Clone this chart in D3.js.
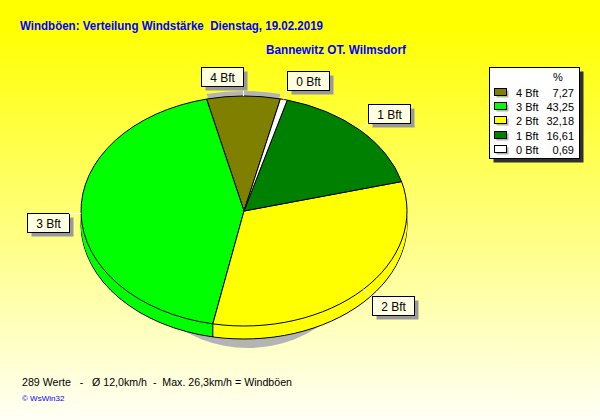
<!DOCTYPE html>
<html><head><meta charset="utf-8">
<script src="https://cdn.jsdelivr.net/npm/d3@7"></script>
<style>
html,body{margin:0;padding:0;background:#fff;}
svg{display:block;font-family:"Liberation Sans",Arial,sans-serif;}
</style></head>
<body><div id="chart"></div>
<script>
// ---- data ----
const titleText = "Windböen: Verteilung Windstärke  Dienstag, 19.02.2019";
const subtitleText = "Bannewitz OT. Wilmsdorf";
const footerText = "289 Werte   -   Ø 12,0km/h  -  Max. 26,3km/h = Windböen";
const creditText = "© WsWin32";
const categories = ["4 Bft", "3 Bft", "2 Bft", "1 Bft", "0 Bft"];
const values = [7.27, 43.25, 32.18, 16.61, 0.69];
const valueLabels = ["7,27", "43,25", "32,18", "16,61", "0,69"];
const legendHeader = "%";

// ---- styles ----
const colors = ["#808000", "#00ff00", "#ffff00", "#008000", "#ffffff"];
const W = 600, H = 420;
const cx = 244, cy = 211, rx = 163, ry = 115, depth = 13;
const startDeg = 12.9;

const svg = d3.select("#chart").append("svg").attr("width", W).attr("height", H);
const defs = svg.append("defs");
const bg = defs.append("linearGradient").attr("id", "bg")
  .attr("x1", "0").attr("y1", "0").attr("x2", "0").attr("y2", "1");
bg.append("stop").attr("offset", "0").attr("stop-color", "#ffff00");
bg.append("stop").attr("offset", "0.06").attr("stop-color", "#ffff00");
bg.append("stop").attr("offset", "1").attr("stop-color", "#fffff6");
svg.append("rect").attr("width", W).attr("height", H).attr("fill", "url(#bg)");

// titles
svg.append("text").attr("x", 20).attr("y", 30).attr("fill", "#0000ff")
  .attr("font-weight", "bold").attr("font-size", 13).style("white-space", "pre")
  .attr("textLength", 303).attr("lengthAdjust", "spacingAndGlyphs").text(titleText);
svg.append("text").attr("x", 266).attr("y", 54).attr("fill", "#0000ff")
  .attr("font-weight", "bold").attr("font-size", 13)
  .attr("textLength", 140).attr("lengthAdjust", "spacingAndGlyphs").text(subtitleText);

// pie
const start = startDeg * Math.PI / 180;
const pie = d3.pie().sort(null).value(d => d).startAngle(start).endAngle(start - 2 * Math.PI);
const arcs = pie(values);
const arc = d3.arc().innerRadius(0).outerRadius(rx);
const sy = ry / rx;
const pt = (a, r1, r2) => [cx + r1 * Math.sin(a), cy - r2 * Math.cos(a)];

// shadow under pie
svg.append("ellipse").attr("cx", cx + 4).attr("cy", cy + 22).attr("rx", 122).attr("ry", 115)
  .attr("fill", "#b4b4b4");

const g = svg.append("g");
// gray band above first slice
g.append("path").attr("d", arc(arcs[0]))
  .attr("transform", `translate(${cx},${cy - 5}) scale(1,${sy})`).attr("fill", "#b4b4b4");

// bottom layer with outline
g.selectAll("path.bot").data(arcs).join("path").attr("class", "bot")
  .attr("d", arc).attr("transform", `translate(${cx},${cy + depth}) scale(1,${sy})`)
  .attr("fill", (d, i) => colors[i]).attr("stroke", "#000").attr("stroke-width", 1)
  .attr("vector-effect", "non-scaling-stroke");
// side fill
for (let k = depth - 1; k >= 1; k--) {
  g.append("g").selectAll("path").data(arcs).join("path")
    .attr("d", arc).attr("transform", `translate(${cx},${cy + k}) scale(1,${sy})`)
    .attr("fill", (d, i) => colors[i]);
}
// vertical edges on the front
arcs.forEach(a => {
  const ang = a.startAngle;
  if (Math.cos(ang) < 0) {
    const p = pt(ang, rx, ry);
    g.append("line").attr("x1", p[0]).attr("y1", p[1]).attr("x2", p[0]).attr("y2", p[1] + depth)
      .attr("stroke", "#000");
  }
});
// top face
g.selectAll("path.top").data(arcs).join("path").attr("class", "top")
  .attr("d", arc).attr("transform", `translate(${cx},${cy}) scale(1,${sy})`)
  .attr("fill", (d, i) => colors[i]).attr("stroke", "#000").attr("stroke-width", 1)
  .attr("vector-effect", "non-scaling-stroke");

// labels
const lab = svg.append("g").attr("font-size", 12);
arcs.forEach((a, i) => {
  const m = (a.startAngle + a.endAngle) / 2;
  const e = pt(m, rx, ry);
  const c = pt(m, rx + 12, ry + 10);
  lab.append("line").attr("x1", e[0]).attr("y1", e[1]).attr("x2", c[0]).attr("y2", c[1])
    .attr("stroke", "#fff").attr("stroke-width", 1);
  const t = lab.append("text").attr("font-size", 12).text(categories[i]);
  const tw = t.node().getComputedTextLength();
  const bw = Math.round(tw + 17), bh = 19;
  const s = Math.sin(m), co = Math.cos(m);
  const bx = Math.round(s >= 0 ? c[0] : c[0] - bw);
  const by = Math.round(co >= 0 ? c[1] - bh : c[1]);
  lab.insert("rect", "text").attr("x", bx + 4.5).attr("y", by + 4.5).attr("width", bw).attr("height", bh)
    .attr("fill", "#999");
  lab.insert("rect", "text").attr("x", bx + 0.5).attr("y", by + 0.5).attr("width", bw).attr("height", bh)
    .attr("fill", "#ffffe1").attr("stroke", "#000");
  t.attr("x", bx + 0.5 + bw / 2).attr("y", by + 14.5).attr("text-anchor", "middle");
});

// legend
const lg = svg.append("g").attr("font-size", 11);
lg.append("rect").attr("x", 493.5).attr("y", 71.5).attr("width", 90).attr("height", 91).attr("fill", "#303030");
lg.append("rect").attr("x", 489.5).attr("y", 67.5).attr("width", 90).attr("height", 91)
  .attr("fill", "#fff").attr("stroke", "#000");
lg.append("text").attr("x", 558).attr("y", 81).attr("text-anchor", "middle").text(legendHeader);
categories.forEach((cat, i) => {
  const y = 93 + i * 14.2;
  lg.append("rect").attr("x", 496.5).attr("y", Math.round(y - 3) + 0.5).attr("width", 12).attr("height", 7).attr("fill", "#b4b4b4");
  lg.append("rect").attr("x", 494.5).attr("y", Math.round(y - 5) + 0.5).attr("width", 12).attr("height", 7)
    .attr("fill", colors[i]).attr("stroke", "#000");
  lg.append("text").attr("x", 516).attr("y", y + 4).text(cat);
  lg.append("text").attr("x", 574).attr("y", y + 4).attr("text-anchor", "end").text(valueLabels[i]);
});

// footer
svg.append("text").attr("x", 22).attr("y", 386).attr("font-size", 11).style("white-space", "pre")
  .attr("textLength", 270).attr("lengthAdjust", "spacingAndGlyphs").text(footerText);
svg.append("text").attr("x", 22).attr("y", 401).attr("font-size", 8).attr("fill", "#0000ff")
  .text(creditText);
</script></body></html>
